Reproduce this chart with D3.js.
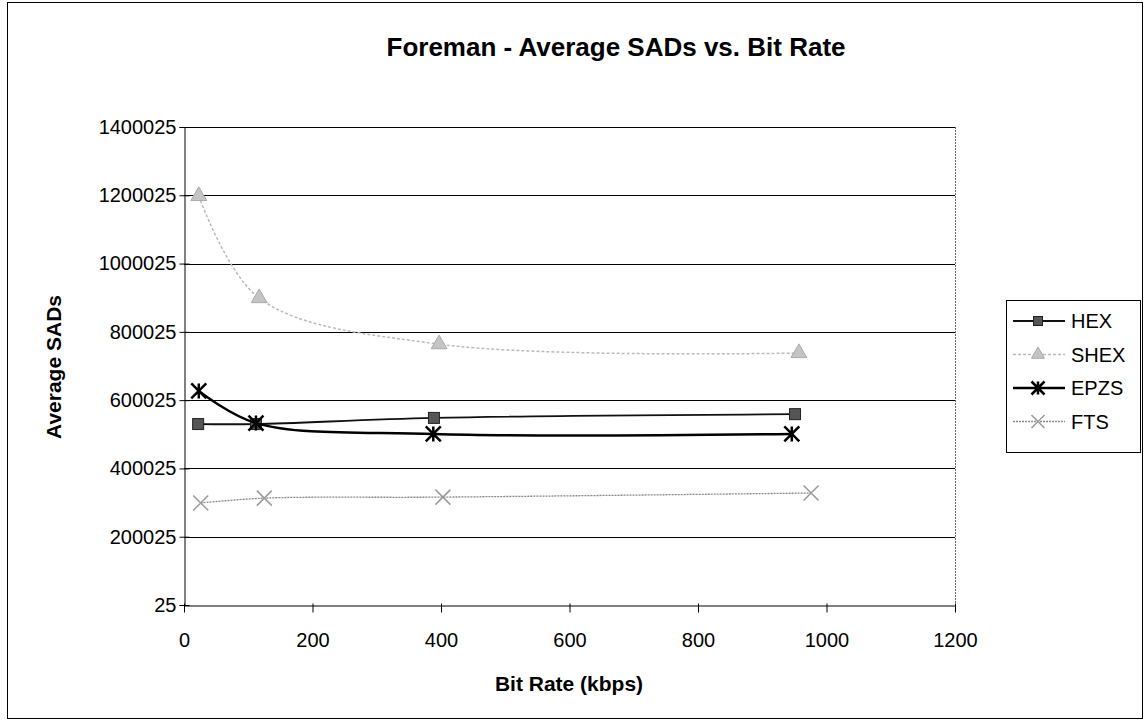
<!DOCTYPE html>
<html>
<head>
<meta charset="utf-8">
<script src="https://cdn.jsdelivr.net/npm/d3@7"></script>
<style>
  body { margin: 0; background: #fff; }
  svg { display: block; font-family: "Liberation Sans", Arial, sans-serif; }
</style>
</head>
<body>
<div id="chart" style="width:1144px;height:722px"></div>
<script>
// bit rate (kbps) per point, average SADs per point
const hexRate = [22, 112, 389, 951];
const hexSad = [530000, 530000, 548000, 559000];
const shexRate = [23, 117, 397, 957];
const shexSad = [1198000, 899000, 764000, 738000];
const epzsRate = [23, 112, 388, 946];
const epzsSad = [627000, 533000, 501000, 501000];
const ftsRate = [26, 125, 403, 976];
const ftsSad = [299000, 313000, 316000, 328000];

const xTicks = [0, 200, 400, 600, 800, 1000, 1200];
const yTicks = [25, 200025, 400025, 600025, 800025, 1000025, 1200025, 1400025];

const seriesNames = ['HEX', 'SHEX', 'EPZS', 'FTS'];

function drawChart(target) {
  const width = 1144;
  const height = 722;
  const plot = { left: 184, right: 955, top: 127, bottom: 605 };

  const svg = d3.select(target).append('svg')
    .attr('width', width)
    .attr('height', height);

  svg.append('rect')
    .attr('x', 7.5).attr('y', 2.5)
    .attr('width', 1135).attr('height', 716)
    .attr('fill', '#fff')
    .attr('stroke', '#000');

  const x = d3.scaleLinear().domain([0, 1200]).range([plot.left, plot.right]);
  const y = d3.scaleLinear().domain([25, 1400025]).range([plot.bottom, plot.top]);

  // gridlines
  svg.append('g')
    .selectAll('line')
    .data(yTicks.slice(1))
    .join('line')
      .attr('x1', plot.left).attr('x2', plot.right)
      .attr('y1', d => Math.round(y(d)) + 0.5).attr('y2', d => Math.round(y(d)) + 0.5)
      .attr('stroke', '#000');

  // right border of plot area
  svg.append('line')
    .attr('x1', plot.right + 0.5).attr('x2', plot.right + 0.5)
    .attr('y1', plot.top).attr('y2', plot.bottom)
    .attr('stroke', '#666')
    .attr('stroke-dasharray', '2,1');

  // y axis
  const yAxis = svg.append('g')
    .attr('transform', `translate(${plot.left + 0.5},0)`)
    .call(d3.axisLeft(y).tickValues(yTicks).tickSize(5).tickPadding(3).tickFormat(d3.format('d')));
  yAxis.selectAll('.tick line').attr('x2', -5).attr('x1', 5);
  yAxis.select('.domain').attr('stroke', '#000');
  yAxis.selectAll('text').attr('font-size', 20).attr('fill', '#000')
    .attr('font-family', '"Liberation Sans", Arial, sans-serif');

  // x axis
  const xAxis = svg.append('g')
    .attr('transform', `translate(0,${plot.bottom + 0.5})`)
    .call(d3.axisBottom(x).tickValues(xTicks).tickSize(7).tickPadding(20).tickSizeOuter(0)
      .tickFormat(d3.format('d')));
  xAxis.selectAll('.tick line').attr('y1', -2);
  xAxis.select('.domain').attr('stroke', '#000');
  xAxis.selectAll('text').attr('font-size', 20).attr('fill', '#000')
    .attr('font-family', '"Liberation Sans", Arial, sans-serif');

  // titles
  svg.append('text')
    .attr('x', 616).attr('y', 56)
    .attr('text-anchor', 'middle')
    .attr('font-size', 26).attr('font-weight', 'bold')
    .text('Foreman - Average SADs vs. Bit Rate');

  svg.append('text')
    .attr('x', 569).attr('y', 691)
    .attr('text-anchor', 'middle')
    .attr('font-size', 21).attr('font-weight', 'bold')
    .text('Bit Rate (kbps)');

  svg.append('text')
    .attr('transform', 'translate(61,367) rotate(-90)')
    .attr('text-anchor', 'middle')
    .attr('font-size', 21).attr('font-weight', 'bold')
    .text('Average SADs');

  const styles = [
    { stroke: '#111', width: 1.8, dash: null, marker: 'square', mfill: '#555' },
    { stroke: '#bbb', width: 1.5, dash: '3,2', marker: 'triangle', mfill: '#c4c4c4' },
    { stroke: '#000', width: 2.4, dash: null, marker: 'star', mfill: '#000' },
    { stroke: '#888', width: 1.3, dash: '2,1', marker: 'x', mfill: '#999' }
  ];

  const series = [
    d3.zip(hexRate, hexSad),
    d3.zip(shexRate, shexSad),
    d3.zip(epzsRate, epzsSad),
    d3.zip(ftsRate, ftsSad)
  ];

  const line = d3.line()
    .x(d => x(d[0]))
    .y(d => y(d[1]))
    .curve(d3.curveCatmullRom.alpha(0.5));

  function marker(g, type, fill, size) {
    const s = size / 2;
    if (type === 'square') {
      g.append('rect').attr('x', -s).attr('y', -s).attr('width', size).attr('height', size)
        .attr('fill', fill).attr('stroke', '#222').attr('stroke-width', 1);
    } else if (type === 'triangle') {
      g.append('path').attr('d', d3.symbol(d3.symbolTriangle, size * size * 0.9)())
        .attr('fill', fill).attr('stroke', '#aaa');
    } else if (type === 'star') {
      const r = s + 2;
      g.append('path')
        .attr('d', `M${-r},${-r}L${r},${r}M${-r},${r}L${r},${-r}M0,${-r}L0,${r}`)
        .attr('stroke', fill).attr('stroke-width', 2.5);
    } else {
      const r = s + 2;
      g.append('path')
        .attr('d', `M${-r},${-r}L${r},${r}M${-r},${r}L${r},${-r}`)
        .attr('stroke', fill).attr('stroke-width', 1.5);
    }
  }

  series.forEach((pts, i) => {
    const st = styles[i];
    svg.append('path')
      .datum(pts)
      .attr('d', line)
      .attr('fill', 'none')
      .attr('stroke', st.stroke)
      .attr('stroke-width', st.width)
      .attr('stroke-dasharray', st.dash);
    pts.forEach(p => {
      const g = svg.append('g').attr('transform', `translate(${x(p[0])},${y(p[1])})`);
      marker(g, st.marker, st.mfill, 11);
    });
  });

  // legend
  const legend = svg.append('g');
  legend.append('rect')
    .attr('x', 1006.5).attr('y', 300.5)
    .attr('width', 134).attr('height', 152)
    .attr('fill', '#fff').attr('stroke', '#000');

  seriesNames.forEach((name, i) => {
    const st = styles[i];
    const ly = 321 + i * 33.5;
    legend.append('line')
      .attr('x1', 1013).attr('x2', 1065)
      .attr('y1', ly).attr('y2', ly)
      .attr('stroke', st.stroke)
      .attr('stroke-width', st.width)
      .attr('stroke-dasharray', st.dash);
    marker(legend.append('g').attr('transform', `translate(1038,${ly})`), st.marker, st.mfill, 9);
    legend.append('text')
      .attr('x', 1071).attr('y', ly + 7)
      .attr('font-size', 20)
      .text(name);
  });
}

drawChart('#chart');
</script>
</body>
</html>
